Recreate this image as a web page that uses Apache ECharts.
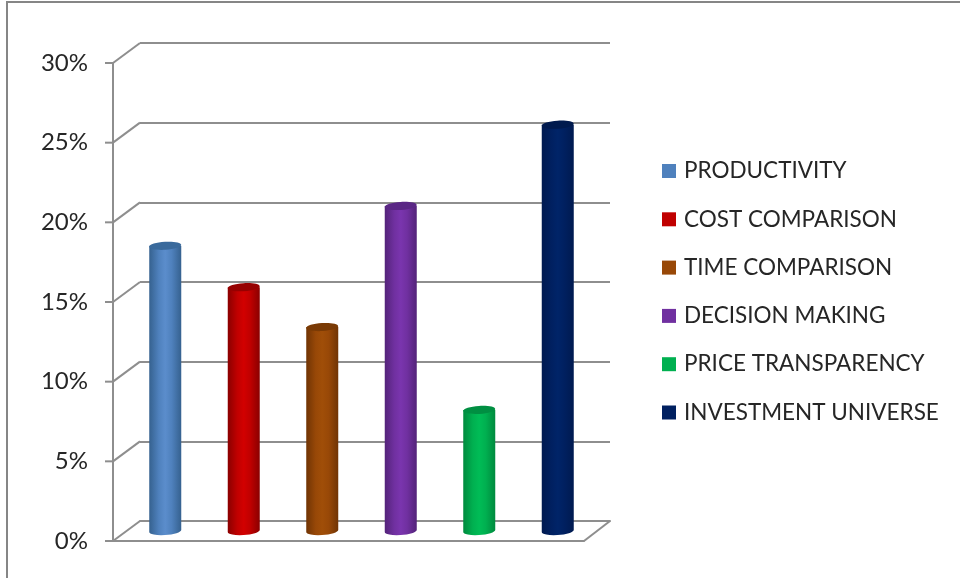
<!DOCTYPE html>
<html><head><meta charset="utf-8">
<style>html,body{margin:0;padding:0;background:#fff}#c{width:960px;height:578px}</style>
<script src="https://cdn.jsdelivr.net/npm/echarts@6/dist/echarts.min.js"></script>
</head><body><div id="c"></div>
<script>
const categories = ['PRODUCTIVITY','COST COMPARISON','TIME COMPARISON','DECISION MAKING','PRICE TRANSPARENCY','INVESTMENT UNIVERSE'];
const values = [17.9, 15.3, 12.8, 20.4, 7.6, 25.5];
const ticks = [0, 5, 10, 15, 20, 25, 30];
const colors = ['#4F81BD','#C00000','#984807','#7030A0','#00B050','#002060'];
const edges = ['#35618F','#8A0000','#703404','#532379','#008A3E','#001A50'];
const lights = ['#5B8DCC','#D20000','#A04E08','#7A35AE','#00BC56','#002468'];
const tops = ['#3A6A9C','#960000','#7A3A05','#5A2785','#008F42','#001A4E'];

const FONT = 'Lato, "Open Sans", sans-serif';
const GRAY = '#8E8E8E';
const valueAxisBase = {type:'value',min:0,max:30,interval:5};

function cylinder(i){
  return function(params, api){
    const top = api.coord([api.value(0), api.value(1)]);
    const base = api.coord([api.value(0), 0]);
    const w = 32, rx = w/2, ry = 4, tilt = 1;
    const x = top[0]-rx;
    const fill = {type:'linear',x:0,y:0,x2:1,y2:0,colorStops:[
      {offset:0,color:edges[i]},{offset:.3,color:colors[i]},{offset:.5,color:lights[i]},
      {offset:.7,color:colors[i]},{offset:1,color:edges[i]}]};
    return {type:'group',children:[
      {type:'path',shape:{pathData:`M${x} ${top[1]} L${x} ${base[1]+tilt} A${rx} ${ry} -4 0 0 ${x+w} ${base[1]-tilt} L${x+w} ${top[1]} Z`},style:{fill}},
      {type:'ellipse',shape:{cx:top[0],cy:top[1],rx,ry},originX:top[0],originY:top[1],rotation:0.06,style:{fill:tops[i]}}
    ]};
  };
}
const series = categories.map((name,i)=>({
  name, type:'custom', xAxisIndex:2, yAxisIndex:2, z:5,
  itemStyle:{color:colors[i]},
  renderItem:cylinder(i),
  encode:{x:0,y:1},
  data:[[i,values[i]]]
}));
// ticks and depth connectors tie the front axes to the back wall
series.push({
  type:'custom', xAxisIndex:0, yAxisIndex:0, z:1, silent:true, legendHoverLink:false,
  renderItem(params, api){
    const v = api.value(0);
    const band = api.size([1,0])[0];
    const a = api.coord([0, v]);
    const left = a[0]-band/2;
    const depthX = 27, depthY = 20;
    const st = {stroke:GRAY,lineWidth:2};
    const kids = [
      {type:'line',shape:{x1:left,y1:a[1],x2:left+depthX,y2:a[1]-depthY},style:st},
      {type:'line',shape:{x1:left-8,y1:a[1],x2:left,y2:a[1]},style:st}
    ];
    if(v===0){
      const right = api.coord([5, 0])[0]+band/2;
      kids.push({type:'line',shape:{x1:right,y1:a[1],x2:right+depthX-1,y2:a[1]-depthY},style:st});
    }
    return {type:'group',children:kids};
  },
  data:ticks.map(t=>[t])
});

const chart = echarts.init(document.getElementById('c'),null,{renderer:'canvas'});
chart.setOption({
  animation:false,
  backgroundColor:'#fff',
  graphic:[
    {type:'polyline',shape:{points:[[7,578],[7,2],[960,2]]},style:{fill:'none',stroke:'#868686',lineWidth:2},silent:true}
  ],
  legend:{
    orient:'vertical',left:657,top:152,
    data:categories,
    icon:'rect',itemWidth:14,itemHeight:14,itemGap:20.3,
    textStyle:{fontFamily:FONT,fontSize:22.5,color:'#262626',padding:[0,0,0,3],height:28,lineHeight:28},
    selectedMode:false
  },
  grid:[
    {left:113,top:63,width:471,height:478},
    {left:140,top:43,width:470,height:478},
    {left:126,top:53,width:471,height:478}
  ],
  xAxis:[
    {type:'category',gridIndex:0,data:categories,
     axisLine:{show:true,lineStyle:{color:GRAY,width:2}},axisTick:{show:false},axisLabel:{show:false}},
    {type:'category',gridIndex:1,data:categories,
     axisLine:{show:true,lineStyle:{color:GRAY,width:2}},axisTick:{show:false},axisLabel:{show:false}},
    {type:'category',gridIndex:2,data:categories,show:false}
  ],
  yAxis:[
    Object.assign({},valueAxisBase,{gridIndex:0,
      axisLine:{show:true,lineStyle:{color:GRAY,width:2}},
      axisTick:{show:false},
      axisLabel:{fontFamily:FONT,fontSize:24,color:'#262626',margin:25,padding:[2,0,0,0],formatter:'{value}%'},
      splitLine:{show:false}}),
    Object.assign({},valueAxisBase,{gridIndex:1,
      axisLine:{show:false},axisTick:{show:false},axisLabel:{show:false},
      splitLine:{show:true,lineStyle:{color:GRAY,width:2}}}),
    Object.assign({},valueAxisBase,{gridIndex:2,show:false})
  ],
  series
});
</script></body></html>
